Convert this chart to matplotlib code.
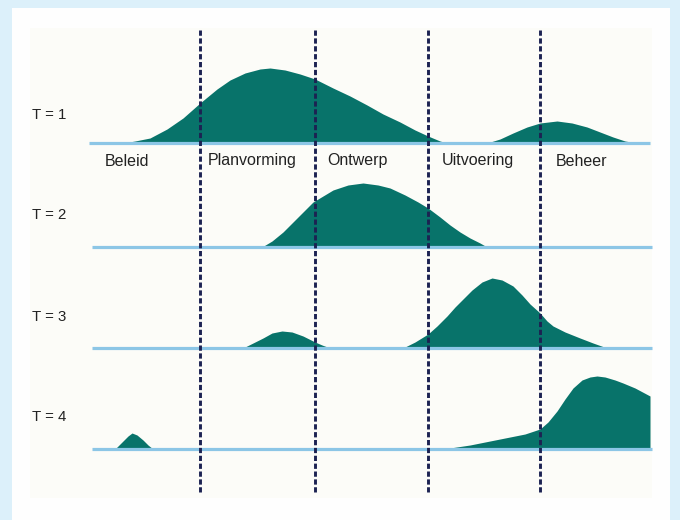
import numpy as np
import matplotlib
matplotlib.use('Agg')
import matplotlib.pyplot as plt
from matplotlib.patches import Rectangle

# rows of the chart, pixel baselines
row_labels = ['T = 1', 'T = 2', 'T = 3', 'T = 4']
row_base = [143, 247, 348, 449]
row_label_y = [115, 215, 317, 417]

# phases
phase_names = ['Beleid', 'Planvorming', 'Ontwerp', 'Uitvoering', 'Beheer']
phase_x = [105, 208, 327, 442, 556]
phase_y = 161
divider_x = [200, 315, 428, 540]

# bumps per row: (x, height above baseline)
t1_a_x = [123, 135, 150, 167, 183, 200, 217, 230, 245, 260, 270, 285, 300, 315, 333, 350, 367, 383, 400, 415, 428, 440, 447]
t1_a_h = [0, 2, 5, 14, 25, 40, 54, 63, 70, 74, 75, 73, 69, 64, 55, 47, 38, 29, 21, 13, 7, 2, 0]
t1_b_x = [487, 500, 513, 527, 540, 557, 572, 587, 600, 613, 625, 637]
t1_b_h = [0, 4, 10, 16, 20, 22, 20, 16, 11, 6, 2, 0]

t2_x = [262, 272, 283, 298, 313, 333, 348, 363, 378, 390, 405, 418, 428, 440, 450, 460, 470, 480, 487]
t2_h = [0, 6, 15, 30, 45, 57, 62, 64, 62, 59, 52, 45, 39, 30, 22, 15, 9, 4, 0]

t3_a_x = [243, 253, 263, 272, 282, 292, 303, 315, 322, 330]
t3_a_h = [0, 5, 10, 15, 17, 16, 12, 6, 3, 0]
t3_b_x = [403, 415, 428, 437, 447, 455, 463, 472, 482, 492, 502, 513, 522, 530, 540, 547, 553, 565, 580, 593, 607]
t3_b_h = [0, 6, 14, 22, 32, 41, 49, 58, 66, 70, 68, 62, 53, 44, 35, 27, 22, 16, 10, 5, 0]

t4_a_x = [115, 122, 128, 132, 137, 143, 148, 153]
t4_a_h = [0, 7, 13, 16, 14, 9, 4, 0]
t4_b_x = [430, 450, 470, 490, 510, 525, 540, 548, 557, 565, 573, 582, 590, 597, 605, 615, 623, 635, 650, 650]
t4_b_h = [0, 1, 4, 8, 12, 15, 20, 27, 38, 50, 61, 69, 72, 73, 72, 69, 66, 61, 53, 0]

bumps = [
    (0, t1_a_x, t1_a_h), (0, t1_b_x, t1_b_h),
    (1, t2_x, t2_h),
    (2, t3_a_x, t3_a_h), (2, t3_b_x, t3_b_h),
    (3, t4_a_x, t4_a_h), (3, t4_b_x, t4_b_h),
]
line_start = [89, 92, 92, 92]
line_end = [650, 652, 652, 652]

teal = '#08736a'
base_col = '#8cc6e6'
dash_col = '#1c2252'

fig = plt.figure(figsize=(6.8, 5.2), dpi=100)
fig.patch.set_facecolor('#dcf0fa')
ax = fig.add_axes([0, 0, 1, 1])
ax.set_xlim(0, 680)
ax.set_ylim(520, 0)
ax.axis('off')

# white panel and faint plot area
ax.add_patch(Rectangle((12, 8), 658, 520, facecolor='#fefefe', edgecolor='none', zorder=0))
ax.add_patch(Rectangle((30, 28), 622, 470, facecolor='#fcfcf8', edgecolor='none', zorder=0))

for row, xs, hs in bumps:
    xs = np.array(xs, dtype=float)
    hs = np.array(hs, dtype=float)
    b = row_base[row]
    ax.fill_between(xs, b, b - hs, color=teal, linewidth=0, zorder=2)

for i in range(4):
    ax.plot([line_start[i], line_end[i]], [row_base[i], row_base[i]], color=base_col, lw=2.3,
            solid_capstyle='butt', zorder=3)
    ax.text(32, row_label_y[i], row_labels[i], fontsize=10.8, family='Liberation Sans',
            color='#222222', va='center', ha='left', zorder=5)

for n, x in zip(phase_names, phase_x):
    ax.text(x, phase_y, n, fontsize=11.5, family='Liberation Sans', color='#222222',
            va='center', ha='left', zorder=5)

for x in divider_x:
    ax.plot([x, x], [30, 492], color=dash_col, lw=2.1, dashes=(1.8, 0.9), zorder=4)

plt.savefig('out.png', dpi=100, facecolor=fig.get_facecolor())
